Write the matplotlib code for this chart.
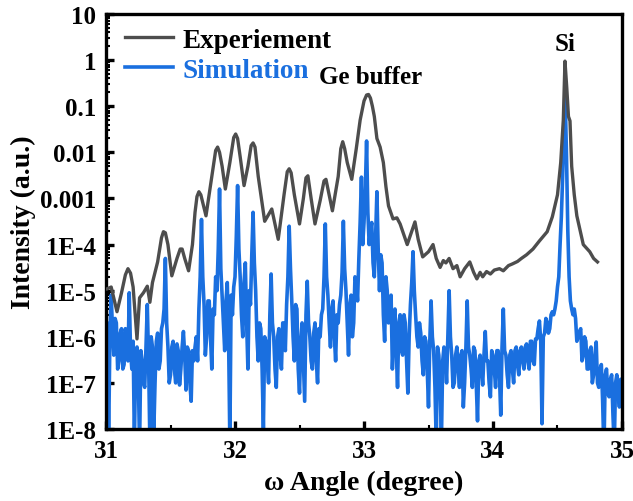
import numpy as np
import matplotlib
matplotlib.use("Agg")
from matplotlib import pyplot as plt
from matplotlib.ticker import FixedLocator, LogLocator, NullFormatter, MultipleLocator

plt.rcParams['font.family'] = ['Liberation Serif', 'DejaVu Serif']
plt.rcParams['font.weight'] = 'bold'

# measured rocking curve (omega, intensity)
exp_omega = [31.01, 31.04, 31.06, 31.085, 31.12, 31.15, 31.17, 31.19, 31.21, 31.24,
             31.26, 31.29, 31.32, 31.34, 31.36, 31.40, 31.43, 31.445, 31.46, 31.48,
             31.51, 31.55, 31.575, 31.59, 31.61, 31.64, 31.67, 31.69, 31.705, 31.72,
             31.735, 31.775, 31.82, 31.85, 31.865, 31.88, 31.90, 31.925, 31.96, 31.99,
             32.005, 32.02, 32.04, 32.07, 32.10, 32.125, 32.14, 32.155, 32.18, 32.23,
             32.285, 32.335, 32.38, 32.405, 32.42, 32.435, 32.46, 32.50, 32.53, 32.55,
             32.565, 32.59, 32.62, 32.66, 32.69, 32.705, 32.73, 32.755, 32.80, 32.82,
             32.835, 32.85, 32.87, 32.905, 32.94, 32.97, 33.00, 33.02, 33.035, 33.05,
             33.065, 33.08, 33.10, 33.125, 33.15, 33.17, 33.19, 33.225, 33.255, 33.28,
             33.335, 33.36, 33.395, 33.42, 33.455, 33.50, 33.535, 33.56, 33.59, 33.615,
             33.635, 33.66, 33.69, 33.72, 33.745, 33.78, 33.82, 33.85, 33.875, 33.90,
             33.92, 33.95, 33.98, 34.01, 34.05, 34.08, 34.12, 34.15, 34.19, 34.22,
             34.26, 34.31, 34.36, 34.42, 34.46, 34.50, 34.525, 34.545, 34.558, 34.572,
             34.585, 34.597, 34.61, 34.63, 34.65, 34.70, 34.75, 34.78, 34.81]
exp_intensity = [1.1e-5, 1.2e-5, 7e-6, 3.5e-6, 9e-6, 2.2e-5, 3e-5, 2.4e-5, 1.2e-5, 9e-7,
                 7e-6, 9e-6, 1.25e-5, 5.6e-6, 1.5e-5, 4.2e-5, 1.4e-4, 1.9e-4, 1.8e-4, 1e-4,
                 2.1e-5, 5e-5, 8e-5, 8e-5, 5e-5, 2.7e-5, 1e-4, 5e-4, 1.1e-3, 1.4e-3,
                 1.2e-3, 4.2e-4, 3e-3, 0.011, 0.013, 0.01, 5e-3, 1.6e-3, 6e-3, 0.021,
                 0.025, 0.02, 8e-3, 1.9e-3, 5e-3, 0.014, 0.016, 0.013, 3e-3, 3.2e-4,
                 5.9e-4, 1.3e-4, 1.2e-3, 3.8e-3, 4.4e-3, 3.6e-3, 1.2e-3, 2.8e-4, 1e-3, 2.8e-3,
                 3.1e-3, 1e-3, 2.8e-4, 9e-4, 2.4e-3, 2.6e-3, 1.2e-3, 5.4e-4, 3e-3, 0.012,
                 0.017, 0.012, 6e-3, 2.6e-3, 0.012, 0.05, 0.13, 0.175, 0.18, 0.15,
                 0.1, 0.06, 0.02, 0.013, 6e-3, 1.8e-3, 6.9e-4, 3.6e-4, 3.8e-4, 2.8e-4,
                 1e-4, 1.6e-4, 3.1e-4, 1.3e-4, 5.4e-5, 7e-5, 1e-4, 5e-5, 3.2e-5, 4.5e-5,
                 4e-5, 5e-5, 3e-5, 3.5e-5, 2e-5, 3e-5, 4.2e-5, 2.5e-5, 1.8e-5, 2.5e-5,
                 2e-5, 2.6e-5, 2.3e-5, 2.8e-5, 3e-5, 2.7e-5, 3.5e-5, 3.8e-5, 4.3e-5, 5e-5,
                 6e-5, 8e-5, 1.2e-4, 1.9e-4, 4e-4, 1.2e-3, 6e-3, 0.05, 0.95, 0.25,
                 0.06, 0.048, 5e-3, 1.2e-3, 4.2e-4, 1e-4, 7e-5, 5e-5, 4.2e-5]

# simulated curve, one value every 0.01 degree from 31.00 to 35.00
sim_omega = np.round(np.arange(31.0, 35.0001, 0.01), 2)
sim_intensity = [
    3e-7, 2e-6, 5e-9, 1e-6, 8e-6, 1.5e-6, 4e-7, 2.5e-6, 2e-6, 2e-7,            # 31.0
    3e-7, 1.2e-6, 1.5e-6, 2e-7, 2.5e-7, 1.5e-6, 1e-6, 3e-7, 9e-6, 5e-7,        # 31.1
    2e-7, 8e-7, 5e-9, 4e-7, 6e-7, 1.5e-7, 4e-9, 5e-7, 3e-7, 1e-7,              # 31.2
    8e-8, 6e-7, 5e-6, 3e-7, 5e-9, 1e-6, 6e-7, 8e-9, 1e-7, 8e-7,               # 31.3
    1.2e-6, 2e-7, 3e-7, 1.5e-6, 2e-6, 4e-6, 5e-5, 2e-6, 6e-7, 1e-7,           # 31.4
    1.5e-7, 6e-7, 8e-7, 2e-7, 1e-7, 7e-7, 5e-7, 9e-8, 2e-7, 6e-7,             # 31.5
    1.3e-6, 4e-7, 7e-8, 6e-7, 5e-7, 1e-7, 4e-8, 5e-7, 3e-7, 6e-7,             # 31.6
    1e-6, 3e-7, 4e-6, 2e-5, 3.5e-4, 2e-5, 5e-6, 4e-7, 1e-6, 6e-6,             # 31.7
    6e-6, 1e-6, 2e-7, 4e-6, 3e-6, 2e-5, 1e-5, 8e-5, 1.6e-3, 3e-5,             # 31.8
    8e-6, 2e-6, 5e-7, 6e-6, 1.5e-5, 1e-6, 5e-9, 8e-6, 3e-6, 1.2e-5,           # 31.9
    2e-5, 1.5e-4, 1.9e-3, 8e-5, 2e-5, 3e-6, 1e-6, 1.5e-5, 4e-5, 2e-6,         # 32.0
    2e-7, 1e-5, 5e-6, 6e-5, 5e-4, 4e-5, 1e-5, 1e-6, 3e-7, 2e-6,               # 32.1
    1.5e-6, 2e-7, 1e-8, 1e-6, 8e-7, 3e-7, 1e-7, 3e-6, 2.3e-5, 2e-6,           # 32.2
    1e-6, 2e-7, 8e-8, 1e-6, 1.5e-6, 4e-7, 2e-7, 2e-6, 2e-6, 5e-7,             # 32.3
    5e-6, 2e-5, 2.5e-4, 3e-5, 6e-6, 1e-6, 3e-7, 5e-6, 4e-6, 2e-7,             # 32.4
    6e-8, 8e-7, 2e-6, 3e-7, 4e-8, 3e-6, 1.6e-5, 2e-6, 1e-6, 3e-7,             # 32.5
    2e-7, 1.2e-6, 2e-6, 3e-7, 1e-7, 1.5e-6, 1e-6, 3e-6, 4e-6, 2e-5,           # 32.6
    2.8e-4, 2e-5, 8e-6, 2e-6, 6e-7, 4e-6, 6e-6, 1e-6, 3e-7, 3e-6,             # 32.7
    2e-6, 5e-6, 8e-6, 2.5e-5, 3.2e-4, 3e-5, 1e-5, 2e-6, 4e-7, 5e-6,           # 32.8
    8e-6, 1e-6, 2e-6, 2e-5, 1.5e-5, 6e-6, 5e-5, 3e-4, 2.9e-3, 1e-4,           # 32.9
    3e-4, 1.5e-3, 0.0176, 5e-4, 1e-4, 2e-4, 3e-4, 4e-5, 2e-5, 1.5e-4,         # 33.0
    1.4e-3, 8e-5, 1e-5, 6e-5, 4e-5, 3e-6, 8e-7, 2e-5, 1e-5, 2e-6,             # 33.1
    3e-6, 8e-6, 2e-7, 1e-6, 4e-6, 5e-7, 8e-8, 2e-6, 3e-6, 5e-7,               # 33.2
    4e-7, 3e-6, 2e-6, 3e-7, 6e-8, 1e-6, 5e-6, 1.5e-5, 7e-5, 1e-5,             # 33.3
    3e-6, 1e-6, 6e-7, 2e-6, 1.2e-6, 3e-7, 1.5e-7, 1e-6, 8e-7, 2e-7,           # 33.4
    3e-8, 8e-7, 6e-6, 1e-6, 5e-7, 8e-8, 5e-9, 6e-7, 4e-7, 1e-7,               # 33.5
    5e-9, 3e-7, 6e-7, 4e-7, 1e-7, 1e-6, 1e-5, 1e-6, 4e-7, 8e-8,               # 33.6
    1e-7, 4e-7, 6e-7, 2e-7, 8e-8, 4e-7, 5e-7, 3e-8, 1e-7, 6e-7,               # 33.7
    6e-6, 6e-7, 4e-7, 2e-7, 8e-8, 6e-7, 5e-7, 1e-7, 1.5e-8, 3e-7,             # 33.8
    4e-7, 2e-7, 9e-8, 4e-7, 1.3e-6, 3e-7, 3e-7, 1e-7, 5e-8, 5e-7,             # 33.9
    4e-7, 2e-7, 8e-8, 5e-7, 5e-7, 1.5e-7, 2e-8, 6e-7, 4e-6, 5e-7,             # 34.0
    4e-7, 1.5e-7, 8e-8, 4e-7, 5e-7, 2e-7, 1e-7, 5e-7, 6e-7, 2.5e-7,           # 34.1
    1.5e-7, 5e-7, 6e-7, 3e-7, 2e-7, 6e-7, 7e-7, 3e-7, 2e-7, 8e-7,             # 34.2
    8e-7, 3e-7, 2.5e-7, 9e-7, 9e-7, 1.5e-6, 2.2e-6, 8e-7, 1.3e-8, 1e-6,       # 34.3
    1.2e-6, 2.5e-6, 2e-6, 1.2e-6, 1.5e-6, 3e-6, 3.5e-6, 3e-6, 4e-6, 6e-6,     # 34.4
    1.2e-5, 2e-5, 1e-4, 4e-4, 3e-3, 0.03, 0.145, 8e-3, 2e-4, 2e-5,            # 34.5
    6e-6, 4e-6, 3e-6, 4e-6, 2.5e-6, 8e-7, 1e-6, 1.3e-6, 1.5e-6, 3e-7,         # 34.6
    4e-7, 1e-6, 8e-7, 2e-7, 2e-7, 5e-7, 6e-7, 1e-7, 1.5e-7, 4e-7,             # 34.7
    7.7e-7, 1e-7, 8e-8, 2e-7, 2.5e-7, 4e-8, 3e-9, 1.5e-7, 2e-7, 6e-8,         # 34.8
    5e-8, 1.2e-7, 1.5e-7, 2e-8, 4e-9, 1e-7, 1.5e-7, 6e-8, 3e-8, 1.2e-7,       # 34.9
    1e-7,                                                                    # 35.0
]

ytick_vals = [1e-8, 1e-7, 1e-6, 1e-5, 1e-4, 1e-3, 1e-2, 1e-1, 1, 10]
ytick_text = ['1E-8', '1E-7', '1E-6', '1E-5', '1E-4', '0.001', '0.01', '0.1', '1', '10']

fig = plt.figure(figsize=(6.33, 5.02), dpi=100)
ax = fig.add_axes([0.1675, 0.1434, 0.8151, 0.8267])

ax.plot(exp_omega, exp_intensity, color='#4d4d4d', lw=2.4, label='Experiement', zorder=3)
ax.plot(sim_omega, sim_intensity, color='#1a6fdf', lw=2.6, label='Simulation', zorder=2)

ax.set_yscale('log')
ax.set_xlim(31, 35)
ax.set_ylim(1e-8, 10)

ax.yaxis.set_major_locator(FixedLocator(ytick_vals))
ax.set_yticklabels(ytick_text)
ax.yaxis.set_minor_locator(LogLocator(base=10, subs=np.arange(2, 10), numticks=20))
ax.yaxis.set_minor_formatter(NullFormatter())
ax.xaxis.set_major_locator(MultipleLocator(1))
ax.xaxis.set_minor_locator(MultipleLocator(0.5))

ax.tick_params(which='major', direction='in', length=6, width=2.4, labelsize=18, pad=7)
ax.tick_params(which='minor', direction='in', length=3, width=1.5)
for side in ['left', 'bottom', 'right', 'top']:
    ax.spines[side].set_linewidth(2.4)

ax.set_xlabel('ω Angle (degree)', fontsize=20, fontweight='bold', labelpad=6)
ax.set_ylabel('Intensity (a.u.)', fontsize=20, fontweight='bold', labelpad=3)

leg = ax.legend(loc='upper left', bbox_to_anchor=(0.01, 1.0), frameon=False,
                fontsize=19.5, handlelength=1.8, handletextpad=0.35, labelspacing=0.2,
                borderaxespad=0.1)
for txt, col in zip(leg.get_texts(), ['black', '#1a6fdf']):
    txt.set_color(col)

ax.text(33.05, 0.45, 'Ge buffer', fontsize=18, fontweight='bold', ha='center', va='center')
ax.text(34.56, 2.24, 'Si', fontsize=18, fontweight='bold', ha='center', va='center')

fig.savefig('out.png', dpi=100)
